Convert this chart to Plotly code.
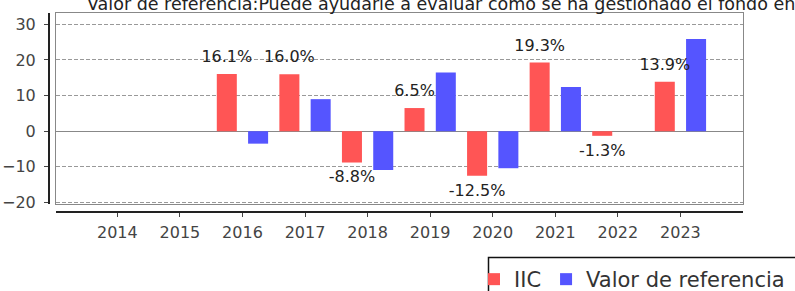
import plotly.graph_objects as go

years = [2014, 2015, 2016, 2017, 2018, 2019, 2020, 2021, 2022, 2023]
iic = [None, None, 16.1, 16.0, -8.8, 6.5, -12.5, 19.3, -1.3, 13.9]
referencia = [None, None, -3.5, 9.0, -10.9, 16.5, -10.4, 12.4, None, 25.9]
series_names = ["IIC", "Valor de referencia"]
title_text = "Valor de referencia:Puede ayudarle a evaluar cómo se ha gestionado el fondo en comparación con su valor de referencia"

RED = "#ff5555"
BLUE = "#5555ff"
FONT = "DejaVu Sans"

iic_text = [("" if v is None else f"{v:.1f}%") for v in iic]
iic_textpos = [("top center" if (v is not None and v >= 0) else "bottom center") for v in iic]

fig = go.Figure()
fig.add_trace(go.Bar(
    x=years, y=iic, name=series_names[0], marker=dict(color=RED, line=dict(width=0)),
    offsetgroup="a", textposition="none", hoverinfo="x+y",
))
fig.add_trace(go.Bar(
    x=years, y=referencia, name=series_names[1], marker=dict(color=BLUE, line=dict(width=0)),
    offsetgroup="b", textposition="none", hoverinfo="x+y",
))
# value labels (grouped scatter, aligned with the grouped bars)
fig.add_trace(go.Scatter(
    x=years, y=iic, mode="markers+text", text=iic_text, textposition=iic_textpos,
    marker=dict(size=11, opacity=0, color=RED), offsetgroup="a", cliponaxis=False,
    textfont=dict(family=FONT, size=16, color="#222222"), showlegend=False, hoverinfo="skip",
))
fig.add_trace(go.Scatter(
    x=years, y=referencia, mode="markers", marker=dict(size=1, opacity=0, color=BLUE),
    offsetgroup="b", showlegend=False, hoverinfo="skip",
))
# helper (empty) trace so that the offset axes are drawn
fig.add_trace(go.Scatter(x=[], y=[], xaxis="x2", yaxis="y2", showlegend=False, hoverinfo="skip"))

W, H = 795, 291
ml, mr, mt, mb = 49, 52, 13, 79
pw = W - ml - mr
ph = H - mt - mb
xdom = [7 / pw, 1]
ydom = [8 / ph, 1]
xr = [2013.02, 2024.0]
yr = [-20.45, 33.2]

def px_x(px):
    return (px - ml) / pw

def px_y(py):
    return (H - mb - py) / ph

fig.update_layout(
    width=W, height=H,
    margin=dict(l=ml, r=mr, t=mt, b=mb, autoexpand=False),
    paper_bgcolor="white", plot_bgcolor="white",
    barmode="group", bargap=0.0, bargroupgap=0.36,
    scattermode="group", scattergap=0.0,
    showlegend=True,
    legend=dict(
        orientation="h", x=px_x(474), xanchor="left", y=px_y(259), yanchor="top",
        borderwidth=0, bgcolor="rgba(0,0,0,0)",
        font=dict(family=FONT, size=21, color="#333333"),
        itemwidth=30, traceorder="normal",
    ),
    shapes=[
        dict(type="rect", xref="paper", yref="paper", x0=px_x(488.5), x1=px_x(820),
             y0=px_y(257.5), y1=px_y(320), line=dict(color="#111111", width=1.5),
             fillcolor="rgba(0,0,0,0)", layer="above"),
    ],
    xaxis=dict(
        domain=xdom, range=xr, showline=True, mirror=True, linecolor="#888888", linewidth=1,
        showgrid=False, zeroline=False, showticklabels=False, ticks="",
    ),
    yaxis=dict(
        domain=ydom, range=yr, showline=True, mirror=True, linecolor="#888888", linewidth=1,
        showgrid=True, gridcolor="#999999", griddash="4px,2px", gridwidth=1, dtick=10,
        zeroline=True, zerolinecolor="#888888", zerolinewidth=1,
        showticklabels=False, ticks="",
    ),
    xaxis2=dict(
        overlaying="x", anchor="free", position=0, domain=xdom, range=xr, side="bottom",
        showline=True, linecolor="#222222", linewidth=2, showgrid=False, zeroline=False,
        tickmode="array", tickvals=years, ticktext=[str(y) for y in years],
        ticks="outside", ticklen=4, tickcolor="#444444", tickwidth=1,
        tickfont=dict(family=FONT, size=16, color="#444444"), ticklabelstandoff=2,
    ),
    yaxis2=dict(
        overlaying="y", anchor="free", position=0, domain=ydom, range=yr, side="left",
        showline=True, linecolor="#222222", linewidth=2, showgrid=False, zeroline=False,
        dtick=10, ticks="outside", ticklen=4, tickcolor="#444444", tickwidth=1,
        tickfont=dict(family=FONT, size=16, color="#444444"), ticklabelstandoff=5,
    ),
    annotations=[dict(
        text=title_text, xref="paper", yref="paper", x=px_x(85), xanchor="left",
        y=px_y(16), yanchor="bottom", showarrow=False,
        font=dict(family=FONT, size=17.5, color="#222222"),
    )],
)

fig.write_html(
    "out.html",
    config={"displayModeBar": False},
    post_script="document.body.style.margin='0';document.body.style.overflow='hidden';",
)
